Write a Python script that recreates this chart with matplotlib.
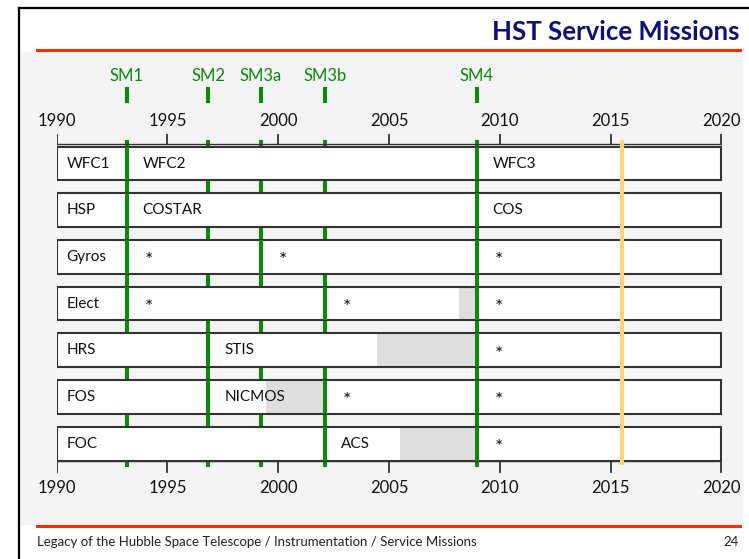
import matplotlib.pyplot as plt
from matplotlib.patches import Rectangle

plt.rcParams['font.family'] = ['Lato', 'DejaVu Sans']

# --- data -------------------------------------------------------------
year_ticks = [1990, 1995, 2000, 2005, 2010, 2015, 2020]
missions = ["SM1", "SM2", "SM3a", "SM3b", "SM4"]
mission_years = [1993.15, 1996.85, 1999.2, 2002.1, 2008.95]
today = 2015.5

rows = ["WFC1", "HSP", "Gyros", "Elect", "HRS", "FOS", "FOC"]
# service missions that split each row into segments
row_breaks = [
    ["SM1", "SM4"],
    ["SM1", "SM4"],
    ["SM1", "SM3a", "SM4"],
    ["SM1", "SM3b", "SM4"],
    ["SM2", "SM4"],
    ["SM2", "SM3b", "SM4"],
    ["SM3b", "SM4"],
]
# text of each segment after the first one (first one = row name)
row_segments = [
    ["WFC2", "WFC3"],
    ["COSTAR", "COS"],
    ["*", "*", "*"],
    ["*", "*", "*"],
    ["STIS", "*"],
    ["NICMOS", "*", "*"],
    ["ACS", "*"],
]
# periods with failed / degraded instrument (start, end), None if none
outages = [None, None, None, (2008.15, 2008.95), (2004.45, 2008.95),
           (1999.45, 2002.1), (2005.5, 2008.95)]

# --- style ------------------------------------------------------------
green = '#0a8a0a'
navy = '#0d0d7d'
red = '#ff2a00'
edge = '#333333'

W, H = 749, 559
fig = plt.figure(figsize=(W / 100, H / 100), dpi=100)

# slide background / frame
fig.add_artist(Rectangle((20 / W, (H - 524) / H), 722 / W, 472 / H,
                         transform=fig.transFigure, color='#f4f4f4', zorder=-2))
fig.add_artist(plt.Line2D([37 / W, 740 / W], [(H - 50) / H] * 2, color=red, lw=2.2))
fig.add_artist(plt.Line2D([37 / W, 740 / W], [(H - 526) / H] * 2, color=red, lw=2.2))
fig.add_artist(plt.Line2D([19 / W, 19 / W], [0, (H - 7.5) / H], color='black', lw=1.6))
fig.add_artist(plt.Line2D([19 / W, 1], [(H - 7.5) / H] * 2, color='black', lw=1.6))
fig.text(739 / W, (H - 32) / H, "HST Service Missions", ha='right', va='center',
         fontsize=18.5, fontweight='bold', color=navy)
fig.text(37 / W, (H - 542) / H, "Legacy of the Hubble Space Telescope / Instrumentation / Service Missions",
         ha='left', va='center', fontsize=9.5, color='#222222')
fig.text(739 / W, (H - 542) / H, "24", ha='right', va='center', fontsize=9.5, color='#222222')

ax = fig.add_axes([56.7 / W, (H - 524) / H, 664.8 / W, 472 / H])
ax.set_xlim(1990, 2020)
ax.set_ylim((524 - 163.5) / 46.7, (52 - 163.5) / 46.7)
ax.axis('off')
ax.patch.set_alpha(0)

bar_h = 0.72
m_year = dict(zip(missions, mission_years))

# mission lines behind the boxes
for name, yr in zip(missions, mission_years):
    ax.plot([yr, yr], [-0.503, 6.5], color=green, lw=2.9, zorder=1, solid_capstyle='butt')
    ax.plot([yr, yr], [-1.638, -1.296], color=green, lw=2.9, zorder=1, solid_capstyle='butt')
    ax.text(yr, -1.874, name, ha='center', va='center', fontsize=12, color=green)

for i, name in enumerate(rows):
    top = i - bar_h / 2
    ax.add_patch(Rectangle((1990, top), 30, bar_h, facecolor='white', edgecolor='none', zorder=2))
    if outages[i] is not None:
        a, b = outages[i]
        ax.add_patch(Rectangle((a, top), b - a, bar_h, facecolor='#dedede', edgecolor='none', zorder=2.5))
    ax.add_patch(Rectangle((1990, top), 30, bar_h, facecolor='none', edgecolor=edge, lw=1.5, zorder=3))
    ax.text(1990.45, i, name, ha='left', va='center', fontsize=11, color='#111111', zorder=6)
    for sm, label in zip(row_breaks[i], row_segments[i]):
        yr = m_year[sm]
        ax.plot([yr, yr], [top, top + bar_h], color=green, lw=2.9, zorder=4, solid_capstyle='butt')
        if label == "*":
            ax.text(yr + 1.0, i + 0.2, label, ha='center', va='baseline', fontsize=14,
                    color='#111111', zorder=6)
        else:
            ax.text(yr + 0.72, i, label, ha='left', va='center', fontsize=11,
                    color='#111111', zorder=6)

# current date
ax.plot([today, today], [-0.503, 6.456], color='#ffd47a', lw=3, zorder=5, solid_capstyle='butt')

# top and bottom time axes
for y0, t0, t1, ty in [(-0.41, -0.61, -0.41, -0.917), (6.36, 6.36, 6.606, 6.95)]:
    ax.plot([1990, 2020], [y0, y0], color=edge, lw=1.0, zorder=3)
    for yr in year_ticks:
        ax.plot([yr, yr], [t0, t1], color=edge, lw=1.3, zorder=3)
        ax.text(yr, ty, str(yr), ha='center', va='center', fontsize=12, color='#111111')

fig.savefig('out.png', dpi=100)
